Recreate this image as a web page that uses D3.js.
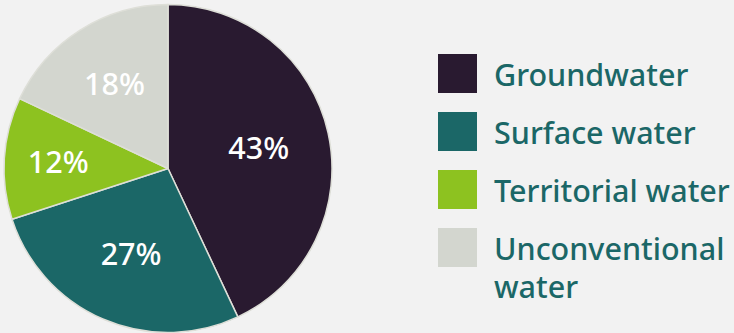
<!DOCTYPE html>
<html><head><meta charset="utf-8">
<script src="https://cdn.jsdelivr.net/npm/d3@7"></script>
<style>html,body{margin:0;padding:0;background:#f2f2f2;}svg{display:block;}</style>
</head><body><svg id="c" width="734" height="333"></svg>
<script>
const categories = ["Groundwater", "Surface water", "Territorial water", "Unconventional water"];
const values = [43, 27, 12, 18];
const colors = ["#291a30", "#1b6767", "#8dc220", "#d3d6cf"];
const legendLines = [["Groundwater"], ["Surface water"], ["Territorial water"], ["Unconventional", "water"]];

const svg = d3.select("#c");
const cx = 168, cy = 168.5, R = 164;
const font = "'Noto Sans', 'Open Sans', sans-serif";

const data = categories.map((c, i) => ({cat: c, v: values[i], color: colors[i]}));
const pie = d3.pie().value(d => d.v).sort(null);
const arcs = pie(data);
const arc = d3.arc().innerRadius(0).outerRadius(R);

const g = svg.append("g").attr("transform", `translate(${cx},${cy})`);
g.selectAll("path").data(arcs).join("path")
  .attr("d", arc)
  .attr("fill", d => d.data.color)
  .attr("stroke", "#dedfd8")
  .attr("stroke-width", 1.5)
  .attr("stroke-linejoin", "round");

// label radius varies slightly with slice size (small slices pushed outward)
const labelR = d => (d.endAngle - d.startAngle) < 0.9 ? 110 : ((d.endAngle - d.startAngle) < 1.3 ? 100 : 93);
g.selectAll("text.lbl").data(arcs).join("text")
  .attr("class", "lbl")
  .attr("x", d => Math.sin((d.startAngle + d.endAngle) / 2) * labelR(d))
  .attr("y", d => -Math.cos((d.startAngle + d.endAngle) / 2) * labelR(d))
  .attr("dy", "0.36em")
  .attr("text-anchor", "middle")
  .attr("font-family", font)
  .attr("font-size", 30.5)
  .attr("font-weight", 500)
  .attr("fill", "#ffffff")
  .text(d => d.data.v + "%");

// legend
const ly = d3.scalePoint().domain(categories).range([54, 228]);
const lg = svg.append("g");
const item = lg.selectAll("g").data(data).join("g")
  .attr("transform", d => `translate(438,${ly(d.cat)})`);
item.append("rect").attr("width", 39).attr("height", 39).attr("fill", d => d.color);
item.append("text")
  .attr("x", 56)
  .attr("y", 32)
  .attr("font-family", font)
  .attr("font-size", 30.5)
  .attr("font-weight", 500)
  .attr("fill", "#1b6767")
  .selectAll("tspan").data((d, i) => legendLines[i]).join("tspan")
  .attr("x", 56)
  .attr("dy", (t, j) => j === 0 ? 0 : 38)
  .text(t => t);
</script></body></html>
